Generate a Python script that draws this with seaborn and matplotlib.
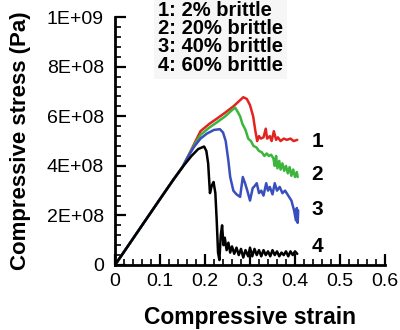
import matplotlib
matplotlib.use("Agg")
import matplotlib.pyplot as plt
import seaborn as sns
import pandas as pd
import numpy as np

# ---- data ----
x_common = [0.0, 0.05, 0.10, 0.13, 0.15]
y_common = [0.0, 1.33e8, 2.66e8, 3.45e8, 3.95e8]

x_red = [0.16, 0.175, 0.19, 0.21, 0.226, 0.245, 0.263, 0.278, 0.285, 0.293, 0.300, 0.307, 0.312, 0.316,
         0.320, 0.324, 0.330, 0.335, 0.338, 0.344, 0.348, 0.353, 0.358, 0.362, 0.368, 0.375, 0.382, 0.390, 0.397, 0.405]
y_red = [4.30e8, 4.85e8, 5.40e8, 5.70e8, 5.90e8, 6.15e8, 6.40e8, 6.65e8, 6.77e8, 6.70e8, 6.45e8, 6.00e8, 5.40e8, 5.00e8,
         5.20e8, 5.10e8, 5.15e8, 5.50e8, 5.10e8, 5.20e8, 5.00e8, 5.40e8, 5.05e8, 5.15e8, 5.00e8, 5.10e8, 5.05e8, 5.10e8, 5.00e8, 5.05e8]

x_green = [0.16, 0.175, 0.19, 0.21, 0.226, 0.245, 0.260, 0.267, 0.272, 0.278, 0.283, 0.290, 0.296, 0.302, 0.308,
           0.314, 0.320, 0.326, 0.332, 0.337, 0.342, 0.347, 0.352, 0.355, 0.358, 0.361, 0.365, 0.368, 0.372, 0.376,
           0.380, 0.384, 0.388, 0.392, 0.396, 0.400, 0.404, 0.406]
y_green = [4.30e8, 4.80e8, 5.25e8, 5.55e8, 5.75e8, 6.00e8, 6.25e8, 6.35e8, 6.20e8, 6.00e8, 5.70e8, 5.45e8, 5.10e8, 5.00e8, 4.80e8,
           4.75e8, 4.60e8, 4.55e8, 4.40e8, 4.50e8, 4.40e8, 4.45e8, 4.30e8, 4.00e8, 4.40e8, 3.90e8, 4.20e8, 3.85e8, 4.10e8, 3.80e8,
           4.00e8, 3.70e8, 3.95e8, 3.60e8, 3.85e8, 3.55e8, 3.75e8, 3.55e8]

x_blue = [0.16, 0.175, 0.19, 0.204, 0.22, 0.233, 0.240, 0.246, 0.252, 0.256, 0.263, 0.270, 0.278, 0.284, 0.289,
          0.294, 0.300, 0.306, 0.311, 0.315, 0.320, 0.325, 0.330, 0.336, 0.340, 0.344, 0.350, 0.355, 0.360, 0.366,
          0.372, 0.378, 0.385, 0.392, 0.398, 0.402, 0.404, 0.406, 0.407]
y_blue = [4.30e8, 4.75e8, 5.10e8, 5.30e8, 5.45e8, 5.48e8, 5.35e8, 5.00e8, 4.20e8, 3.55e8, 3.00e8, 2.85e8, 2.75e8, 3.55e8, 3.30e8,
          3.00e8, 2.60e8, 3.10e8, 3.20e8, 3.30e8, 2.90e8, 3.00e8, 2.80e8, 3.30e8, 3.00e8, 3.15e8, 2.85e8, 3.30e8, 3.00e8, 3.15e8,
          2.90e8, 3.00e8, 2.80e8, 2.60e8, 2.20e8, 1.80e8, 2.30e8, 1.70e8, 2.20e8]

x_black = [0.17, 0.185, 0.198, 0.203, 0.207, 0.211, 0.215, 0.219, 0.223, 0.226, 0.229, 0.232, 0.235, 0.238, 0.241,
           0.244, 0.248, 0.252, 0.256, 0.260, 0.265, 0.270, 0.275, 0.280, 0.285, 0.290, 0.296, 0.300, 0.305, 0.310,
           0.315, 0.320, 0.325, 0.330, 0.335, 0.340, 0.345, 0.350, 0.355, 0.360, 0.365, 0.370, 0.375, 0.380, 0.385,
           0.390, 0.395, 0.400, 0.405]
y_black = [4.40e8, 4.68e8, 4.78e8, 4.60e8, 4.10e8, 2.90e8, 3.20e8, 3.35e8, 2.90e8, 1.80e8, 0.50e8, 0.20e8, 1.20e8, 1.60e8, 0.80e8,
           1.10e8, 0.60e8, 0.90e8, 0.50e8, 0.75e8, 0.45e8, 0.70e8, 0.40e8, 0.65e8, 0.30e8, 0.60e8, 0.35e8, 0.70e8, 0.35e8, 0.65e8,
           0.40e8, 0.60e8, 0.35e8, 0.60e8, 0.40e8, 0.55e8, 0.35e8, 0.60e8, 0.40e8, 0.55e8, 0.35e8, 0.50e8, 0.40e8, 0.55e8, 0.35e8,
           0.55e8, 0.40e8, 0.55e8, 0.45e8]

curve_labels = ["1", "2", "3", "4"]
legend_lines = ["1: 2% brittle", "2: 20% brittle", "3: 40% brittle", "4: 60% brittle"]
xtick_vals = [0, 0.1, 0.2, 0.3, 0.4, 0.5, 0.6]
xtick_labels = ["0", "0.1", "0.2", "0.3", "0.4", "0.5", "0.6"]
ytick_vals = [0, 2e8, 4e8, 6e8, 8e8, 1e9]
ytick_labels = ["0", "2E+08", "4E+08", "6E+08", "8E+08", "1E+09"]

# ---- build frame ----
series = [("1", x_red, y_red), ("2", x_green, y_green), ("3", x_blue, y_blue), ("4", x_black, y_black)]
rows = []
for name, xs, ys in series:
    for xv, yv in zip(x_common + xs, y_common + ys):
        rows.append({"curve": name, "strain": xv, "stress": yv})
df = pd.DataFrame(rows)

sns.set_style("ticks")
plt.rcParams["font.family"] = ["Liberation Sans", "DejaVu Sans"]
plt.rcParams.update({"text.color": "black", "axes.labelcolor": "black", "axes.edgecolor": "black",
                     "xtick.color": "black", "ytick.color": "black"})

fig = plt.figure(figsize=(4.0, 3.3), dpi=100)
ax = fig.add_axes([0.2875, 0.197, 0.675, 0.751])

palette = {"1": "#e2231f", "2": "#3cb53c", "3": "#3a4fbe", "4": "#000000"}
sns.lineplot(data=df, x="strain", y="stress", hue="curve", palette=palette, sort=False,
             estimator=None, lw=1.8, legend=False, ax=ax)

ax.set_xlim(0, 0.6)
ax.set_ylim(0, 1e9)
ax.set_xticks(xtick_vals)
ax.set_xticklabels(xtick_labels, fontsize=14)
ax.set_yticks(ytick_vals)
ax.set_yticklabels(ytick_labels, fontsize=14)
ax.xaxis.set_minor_locator(matplotlib.ticker.MultipleLocator(0.02))
ax.yaxis.set_minor_locator(matplotlib.ticker.MultipleLocator(4e7))
ax.tick_params(which="major", direction="in", length=8, width=1.6, color="black", labelcolor="black")
ax.tick_params(which="minor", direction="in", length=4, width=1.2, color="black")
ax.tick_params(axis="y", which="major", pad=8)
ax.tick_params(axis="x", which="major", pad=6)
sns.despine(ax=ax)
for s in ["left", "bottom"]:
    ax.spines[s].set_linewidth(2)
    ax.spines[s].set_color("black")

ax.set_xlabel("Compressive strain", fontsize=16.5, fontweight="bold", labelpad=11, color="black")
ax.set_ylabel("Compressive stress (Pa)", fontsize=16, fontweight="bold", labelpad=11, color="black")

# legend text block (figure coordinates, above plot area)
fig.text(0.395, 0.997, "\n".join(legend_lines), fontsize=14.5, fontweight="bold", color="black",
         va="top", ha="left", linespacing=0.95,
         bbox=dict(facecolor="#f6f6f6", edgecolor="none", pad=3))

# curve labels
label_y = [5.0e8, 3.65e8, 2.25e8, 0.75e8]
for lab, yv in zip(curve_labels, label_y):
    ax.text(0.45, yv, lab, fontsize=15, fontweight="bold", ha="center", va="center", color="black")

fig.savefig("out.png", dpi=100)
